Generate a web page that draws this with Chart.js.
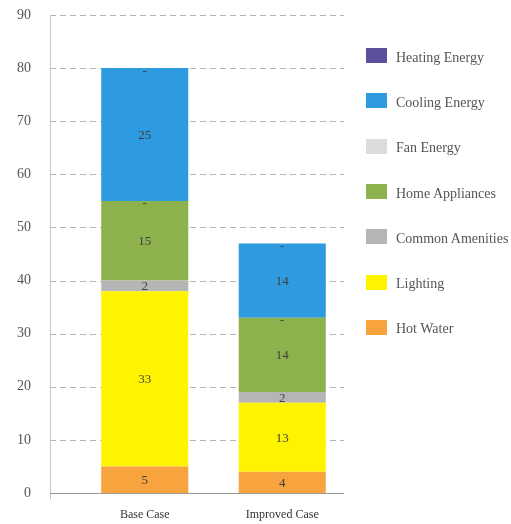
<!DOCTYPE html>
<html>
<head>
<meta charset="utf-8">
<script src="https://cdn.jsdelivr.net/npm/chart.js@4/dist/chart.umd.min.js"></script>
<style>
  html, body { margin: 0; padding: 0; background: #fff; }
  #wrap { position: relative; width: 511px; height: 524px; overflow: hidden; }
  #legend { position: absolute; left: 366px; top: 33px; font-family: "Liberation Serif", "DejaVu Serif", serif; font-size: 14px; color: #555; }
  #legend .row { display: flex; align-items: center; height: 45.3px; white-space: nowrap; }
  #legend .box { width: 21px; height: 15px; margin-right: 9px; flex: none; }
  #legend .txt { position: relative; top: 2px; }
</style>
</head>
<body>
<div id="wrap">
  <canvas id="energyChart"></canvas>
  <div id="legend"></div>
</div>
<script>
// categories and stacked series, bottom to top
const categories = ['Base Case', 'Improved Case'];
const hotWater = [5, 4];
const lighting = [33, 13];
const commonAmenities = [2, 2];
const homeAppliances = [15, 14];
const fanEnergy = [0, 0];
const coolingEnergy = [25, 14];
const heatingEnergy = [0, 0];
const yTicks = [0, 10, 20, 30, 40, 50, 60, 70, 80, 90];

const series = [
  { label: 'Hot Water', data: hotWater, color: '#f7a43e' },
  { label: 'Lighting', data: lighting, color: '#fff400' },
  { label: 'Common Amenities', data: commonAmenities, color: '#b5b5b5' },
  { label: 'Home Appliances', data: homeAppliances, color: '#8db24d' },
  { label: 'Fan Energy', data: fanEnergy, color: '#dcdcdc' },
  { label: 'Cooling Energy', data: coolingEnergy, color: '#2e9ae0' },
  { label: 'Heating Energy', data: heatingEnergy, color: '#5d4f9e' }
];

const serif = '"Liberation Serif", "DejaVu Serif", serif';

// dashed grid + axis lines that run left of the bars' area
const gridPlugin = {
  id: 'sideGrid',
  beforeDatasetsDraw(chart) {
    const { ctx } = chart;
    const y = chart.scales.y;
    const x0 = 50, x1 = 344;
    ctx.save();
    ctx.lineWidth = 1;
    ctx.strokeStyle = '#b4b4b4';
    ctx.setLineDash([6, 4]);
    y.ticks.forEach(t => {
      if (t.value === 0) return;
      const py = Math.round(y.getPixelForValue(t.value)) + 0.5;
      ctx.beginPath();
      ctx.moveTo(x0, py);
      ctx.lineTo(x1, py);
      ctx.stroke();
    });
    ctx.setLineDash([]);
    ctx.strokeStyle = '#c4c4c4';
    const top = Math.round(y.getPixelForValue(90));
    const base = Math.round(y.getPixelForValue(0)) + 0.5;
    ctx.beginPath();
    ctx.moveTo(x0 + 0.5, top);
    ctx.lineTo(x0 + 0.5, base + 6);
    ctx.stroke();
    ctx.strokeStyle = '#999';
    ctx.beginPath();
    ctx.moveTo(x0, base);
    ctx.lineTo(x1, base);
    ctx.stroke();
    ctx.restore();
  }
};

// value labels in the middle of each segment, '-' for empty ones
const valueLabels = {
  id: 'valueLabels',
  afterDatasetsDraw(chart) {
    const { ctx } = chart;
    ctx.save();
    ctx.font = '13px ' + serif;
    ctx.fillStyle = '#3f3f3f';
    ctx.textAlign = 'center';
    ctx.textBaseline = 'middle';
    chart.data.datasets.forEach((ds, di) => {
      const meta = chart.getDatasetMeta(di);
      meta.data.forEach((bar, i) => {
        const v = ds.data[i];
        if (v === 0) {
          ctx.fillText('-', bar.x, bar.y + 3);
        } else {
          ctx.fillText(String(v), bar.x, (bar.y + bar.base) / 2 + 1);
        }
      });
    });
    ctx.restore();
  }
};

new Chart(document.getElementById('energyChart'), {
  type: 'bar',
  data: {
    labels: categories,
    datasets: series.map(s => ({
      label: s.label,
      data: s.data,
      backgroundColor: s.color,
      borderWidth: 0,
      barPercentage: 0.633,
      categoryPercentage: 1
    }))
  },
  options: {
    responsive: true,
    maintainAspectRatio: false,
    animation: false,
    layout: { padding: { top: 15, left: 17, right: 160, bottom: 2 } },
    plugins: {
      legend: { display: false },
      tooltip: { enabled: false }
    },
    scales: {
      x: {
        stacked: true,
        afterFit(scale) { scale.height = 29; },
        grid: { display: false, drawTicks: false },
        border: { display: false },
        ticks: { color: '#333', padding: 15, font: { family: serif, size: 12 } }
      },
      y: {
        stacked: true,
        min: 0,
        max: 90,
        afterBuildTicks(scale) { scale.ticks = yTicks.map(v => ({ value: v })); },
        afterFit(scale) {
          // labels sit far left of the bars; keep the wide gap out of the vertical padding
          scale.width = 59;
          scale.paddingTop = 8;
          scale.paddingBottom = 8;
        },
        grid: { display: false, drawTicks: false },
        border: { display: false },
        ticks: { color: '#555', padding: 45, font: { family: serif, size: 14 } }
      }
    }
  },
  plugins: [gridPlugin, valueLabels]
});

// legend, top entry first
const legend = document.getElementById('legend');
series.slice().reverse().forEach(s => {
  const row = document.createElement('div');
  row.className = 'row';
  const box = document.createElement('span');
  box.className = 'box';
  box.style.background = s.color;
  const txt = document.createElement('span');
  txt.className = 'txt';
  txt.textContent = s.label;
  row.appendChild(box);
  row.appendChild(txt);
  legend.appendChild(row);
});
</script>
</body>
</html>
